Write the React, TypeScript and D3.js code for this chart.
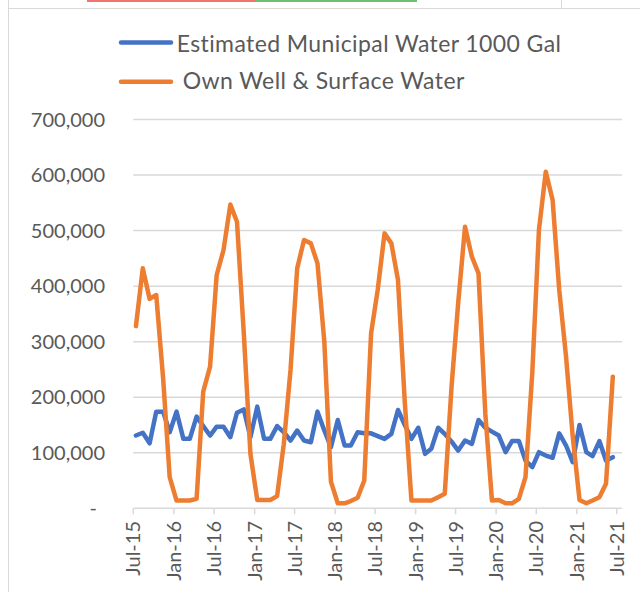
import React from 'react';
import * as d3 from 'd3';

const seriesNames = ['Estimated Municipal Water 1000 Gal', 'Own Well & Surface Water'];
const seriesColors = ['#4472C4', '#ED7D31'];

// monthly values, Jul-2015 .. Jun-2021
const municipal = [
  131, 136, 117, 174, 174, 137, 174, 125, 125, 165, 148, 131,
  147, 147, 128, 172, 178, 128, 183, 125, 125, 148, 137, 122,
  140, 122, 119, 174, 140, 110, 159, 113, 113, 137, 135, 135,
  130, 125, 134, 177, 150, 125, 145, 98, 107, 145, 134, 120,
  104, 122, 116, 159, 145, 138, 131, 101, 121, 121, 86, 74,
  101, 95, 91, 135, 113, 83, 150, 101, 94, 121, 86, 92,
].map((v) => v * 1000);

const ownWell = [
  328, 432, 377, 384, 235, 56, 14, 14, 14, 17, 210, 255,
  420, 465, 547, 516, 315, 98, 15, 15, 15, 22, 115, 250,
  432, 483, 477, 441, 300, 48, 9, 9, 13, 19, 50, 315,
  393, 495, 477, 411, 190, 14, 14, 14, 14, 20, 26, 220,
  370, 507, 453, 423, 170, 14, 15, 9, 9, 17, 56, 245,
  501, 606, 555, 393, 273, 130, 15, 9, 14, 20, 44, 237,
].map((v) => v * 1000);

const yTicks = [0, 100000, 200000, 300000, 400000, 500000, 600000, 700000];
const xTickLabels = ['Jul-15', 'Jan-16', 'Jul-16', 'Jan-17', 'Jul-17', 'Jan-18', 'Jul-18', 'Jan-19', 'Jul-19', 'Jan-20', 'Jul-20', 'Jan-21', 'Jul-21'];

const FONT = 'Lato, "Open Sans", sans-serif';
const TEXT = '#595959';

export default function App() {
  const W = 640;
  const H = 592;
  const plotLeft = 133.3;
  const plotRight = 622;
  const x = d3
    .scaleTime()
    .domain([new Date(2015, 6, 1), new Date(2021, 6, 1)])
    .range([133.3, 616.8]);
  const y = d3.scaleLinear().domain([0, 700000]).range([508.3, 119.5]);

  const dates = municipal.map((_, i) => new Date(2015, 6 + i, 13));
  const tickDates = xTickLabels.map((_, i) => new Date(2015, 6 + i * 6, 1));
  const fmtY = d3.format(',');

  const line = d3
    .line<number>()
    .x((_, i) => x(dates[i]))
    .y((d) => y(d));

  const series = [municipal, ownWell];
  const legendRows = [
    { ly: 42.5, tx: 176.7, ty: 51.7 },
    { ly: 81.7, tx: 182.7, ty: 89.4 },
  ];

  return (
    <svg
      width={W}
      height={H}
      style={{ position: 'absolute', left: 0, top: 0, background: '#fff' }}
      fontFamily={FONT}
    >
      <rect x={0} y={0} width={W} height={H} fill="#fff" />
      {/* spreadsheet fragments */}
      <rect x={87} y={0} width={169} height={2} fill="#F07470" />
      <rect x={256} y={0} width={161} height={2} fill="#6CBF74" />
      <line x1={8.5} y1={0} x2={8.5} y2={H} stroke="#d9d9d9" strokeWidth={1} />
      <line x1={561.5} y1={0} x2={561.5} y2={8} stroke="#d9d9d9" strokeWidth={1} />
      <line x1={8} y1={8.5} x2={W} y2={8.5} stroke="#d9d9d9" strokeWidth={1} />

      {/* legend */}
      {seriesNames.map((name, i) => {
        const r = legendRows[i];
        return (
          <g key={name}>
            <line x1={121} x2={171} y1={r.ly} y2={r.ly} stroke={seriesColors[i]} strokeWidth={4.5} strokeLinecap="round" />
            <text x={r.tx} y={r.ty} fontSize={23} letterSpacing={0.4} fill={TEXT}>
              {name}
            </text>
          </g>
        );
      })}

      {/* gridlines */}
      {yTicks.map((t) =>
        t === 0 ? null : (
          <line key={t} x1={plotLeft} x2={plotRight} y1={y(t)} y2={y(t)} stroke="#d9d9d9" strokeWidth={1.5} />
        )
      )}
      {/* y labels */}
      {yTicks.map((t) => (
        <text
          key={'yl' + t}
          x={t === 0 ? 97 : 105}
          y={y(t)}
          dy="0.35em"
          textAnchor="end"
          fontSize={20}
          fill={TEXT}
        >
          {t === 0 ? '-' : fmtY(t)}
        </text>
      ))}

      {/* x axis */}
      <line x1={plotLeft} x2={plotRight} y1={y(0)} y2={y(0)} stroke="#d9d9d9" strokeWidth={1.5} />
      {tickDates.map((d, i) => (
        <g key={'xt' + i}>
          <line x1={x(d)} x2={x(d)} y1={y(0)} y2={y(0) + 6} stroke="#d9d9d9" strokeWidth={1.5} />
          <text
            transform={`translate(${x(d)},${521}) rotate(-90)`}
            dy="0.35em"
            textAnchor="end"
            fontSize={20}
            fill={TEXT}
          >
            {xTickLabels[i]}
          </text>
        </g>
      ))}

      {/* series */}
      {series.map((s, i) => (
        <path
          key={'s' + i}
          d={line(s) || ''}
          fill="none"
          stroke={seriesColors[i]}
          strokeWidth={4.5}
          strokeLinejoin="round"
          strokeLinecap="round"
        />
      ))}
    </svg>
  );
}
